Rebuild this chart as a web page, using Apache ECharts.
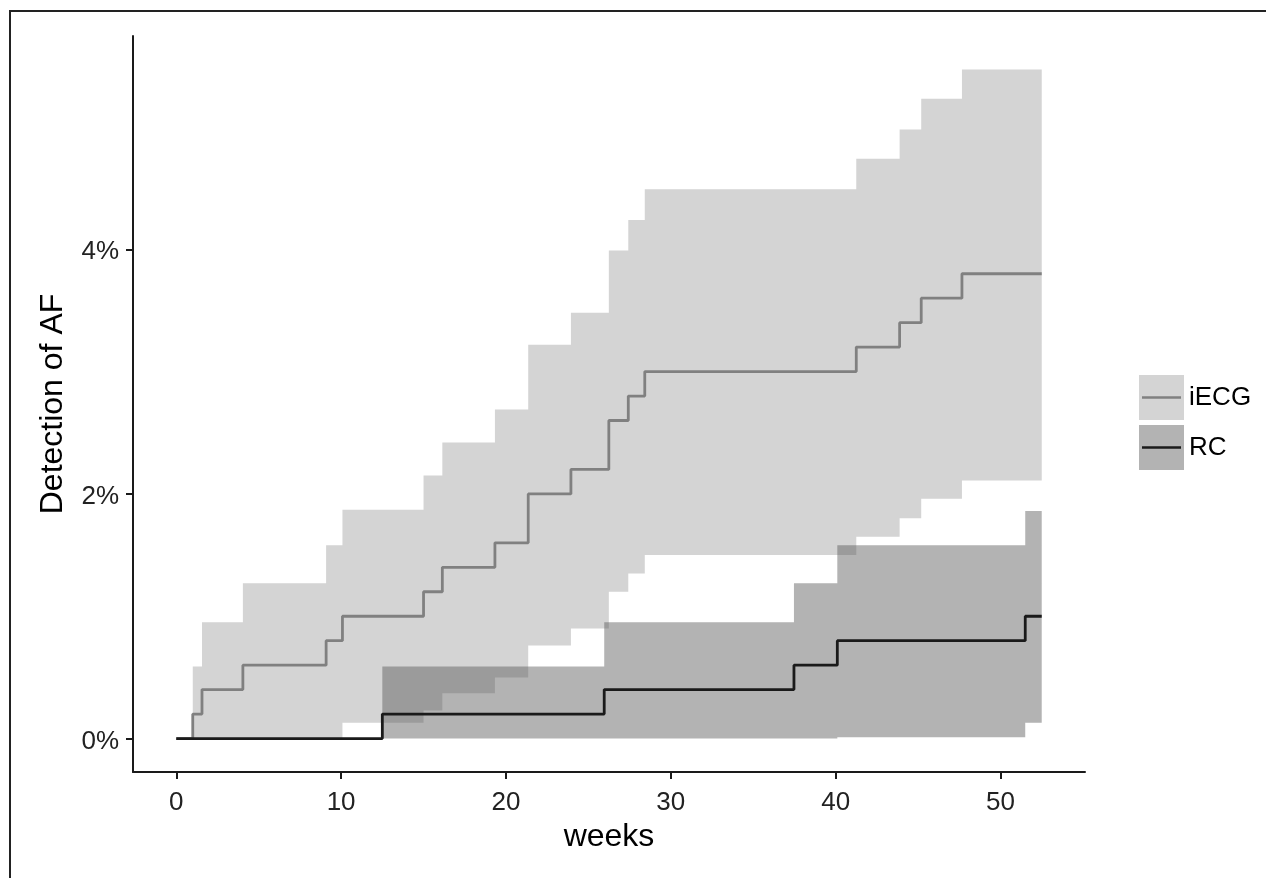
<!DOCTYPE html>
<html>
<head>
<meta charset="utf-8">
<script src="https://cdn.jsdelivr.net/npm/echarts@6/dist/echarts.min.js"></script>
<style>
  html, body { margin: 0; padding: 0; background: #fff; }
  #chart { width: 1266px; height: 878px; }
</style>
</head>
<body>
<div id="chart"></div>
<script>
// step times (weeks) and cumulative detection (%)
const iecgTimes = [0, 1.0, 1.56, 4.04, 9.09, 10.08, 15.0, 16.14, 19.33, 21.35, 23.94, 26.24, 27.42, 28.42, 41.25, 43.88, 45.19, 47.66];
const iecgEst   = [0, 0.2, 0.4, 0.6, 0.8, 1.0, 1.2, 1.4, 1.6, 2.0, 2.2, 2.6, 2.8, 3.0, 3.2, 3.4, 3.6, 3.8];
const iecgLower = [0, 0, 0, 0, 0, 0.13, 0.23, 0.37, 0.50, 0.76, 0.90, 1.20, 1.35, 1.50, 1.65, 1.80, 1.96, 2.11];
const iecgUpper = [0, 0.59, 0.95, 1.27, 1.58, 1.87, 2.15, 2.42, 2.69, 3.22, 3.48, 3.99, 4.24, 4.49, 4.74, 4.98, 5.23, 5.47];

const rcTimes = [0, 12.5, 25.96, 37.47, 40.1, 51.5];
const rcEst   = [0, 0.2, 0.4, 0.6, 0.8, 1.0];
const rcLower = [0, 0, 0, 0, 0.01, 0.13];
const rcUpper = [0, 0.59, 0.95, 1.27, 1.58, 1.86];

const endWeek = 52.5;
const xTicks = [0, 10, 20, 30, 40, 50];
const yTicks = [0, 2, 4];

const font = "'Liberation Sans', Arial, sans-serif";

function stepLine(times, vals) {
  const pts = times.map((t, i) => [t, vals[i]]);
  pts.push([endWeek, vals[vals.length - 1]]);
  return pts;
}

// one polygon for a whole confidence band, built through the axes
function bandRender(times, lower, upper) {
  return function (params, api) {
    if (params.dataIndex !== 0) return null;
    const pts = [];
    for (let i = 0; i < times.length; i++) {
      const x1 = i + 1 < times.length ? times[i + 1] : endWeek;
      pts.push(api.coord([times[i], upper[i]]));
      pts.push(api.coord([x1, upper[i]]));
    }
    for (let i = times.length - 1; i >= 0; i--) {
      const x1 = i + 1 < times.length ? times[i + 1] : endWeek;
      pts.push(api.coord([x1, lower[i]]));
      pts.push(api.coord([times[i], lower[i]]));
    }
    return {
      type: 'polygon',
      shape: { points: pts },
      style: { fill: api.visual('color') }
    };
  };
}

const myChart = echarts.init(document.getElementById('chart'), null, { renderer: 'canvas' });

const axisCommon = {
  type: 'value',
  axisLine: { onZero: false, lineStyle: { color: '#1a1a1a', width: 2 } },
  axisTick: { length: 7, lineStyle: { color: '#1a1a1a', width: 2 } },
  splitLine: { show: false },
  nameTextStyle: { fontSize: 32, color: '#000', fontFamily: font }
};

const option = {
  animation: false,
  backgroundColor: '#fff',
  grid: { left: 133, right: 181, top: 36, bottom: 106, containLabel: false },
  xAxis: Object.assign({}, axisCommon, {
    min: -2.625,
    max: 55.125,
    name: 'weeks',
    nameLocation: 'middle',
    nameGap: 48,
    axisTick: Object.assign({}, axisCommon.axisTick, { customValues: xTicks }),
    axisLabel: { customValues: xTicks, fontSize: 26, color: '#222', fontFamily: font, margin: 18 }
  }),
  yAxis: Object.assign({}, axisCommon, {
    min: -0.2735,
    max: 5.7435,
    name: 'Detection of AF',
    nameLocation: 'middle',
    nameGap: 64,
    axisTick: Object.assign({}, axisCommon.axisTick, { customValues: yTicks }),
    axisLabel: {
      customValues: yTicks,
      formatter: '{v|{value}%}',
      margin: 14,
      rich: { v: { fontSize: 26, color: '#222', fontFamily: font, padding: [6, 0, 0, 0] } }
    }
  }),
  legend: {
    data: [
      { name: 'iECG', itemStyle: { color: '#d4d4d4' } },
      { name: 'RC', itemStyle: { color: '#b3b3b3' } }
    ],
    orient: 'vertical',
    left: 1134,
    top: 370,
    icon: 'rect',
    itemWidth: 45,
    itemHeight: 45,
    itemGap: 5,
    selectedMode: false,
    textStyle: { fontSize: 26, color: '#000', fontFamily: font }
  },
  graphic: [
    { type: 'rect', shape: { x: 10, y: 11, width: 1400, height: 1000 }, style: { fill: null, stroke: '#222', lineWidth: 2 }, silent: true },
    { type: 'line', shape: { x1: 1142, y1: 397.5, x2: 1181, y2: 397.5 }, style: { stroke: '#808080', lineWidth: 2.5 }, z: 100 },
    { type: 'line', shape: { x1: 1142, y1: 447.5, x2: 1181, y2: 447.5 }, style: { stroke: '#1a1a1a', lineWidth: 2.5 }, z: 100 }
  ],
  series: [
    {
      name: 'iECG',
      type: 'custom',
      renderItem: bandRender(iecgTimes, iecgLower, iecgUpper),
      itemStyle: { color: '#d4d4d4' },
      data: iecgTimes.map((t, i) => [t, iecgUpper[i]]),
      encode: { x: 0, y: 1 },
      z: 1
    },
    {
      name: 'RC',
      type: 'custom',
      renderItem: bandRender(rcTimes, rcLower, rcUpper),
      itemStyle: { color: 'rgba(83,83,83,0.442)' },
      data: rcTimes.map((t, i) => [t, rcUpper[i]]),
      encode: { x: 0, y: 1 },
      z: 2
    },
    {
      name: 'iECG estimate',
      type: 'line',
      step: 'end',
      showSymbol: false,
      data: stepLine(iecgTimes, iecgEst),
      lineStyle: { color: '#808080', width: 2.8 },
      itemStyle: { color: '#808080' },
      z: 3
    },
    {
      name: 'RC estimate',
      type: 'line',
      step: 'end',
      showSymbol: false,
      data: stepLine(rcTimes, rcEst),
      lineStyle: { color: '#1a1a1a', width: 2.8 },
      itemStyle: { color: '#1a1a1a' },
      z: 4
    }
  ]
};

option && myChart.setOption(option);
</script>
</body>
</html>
